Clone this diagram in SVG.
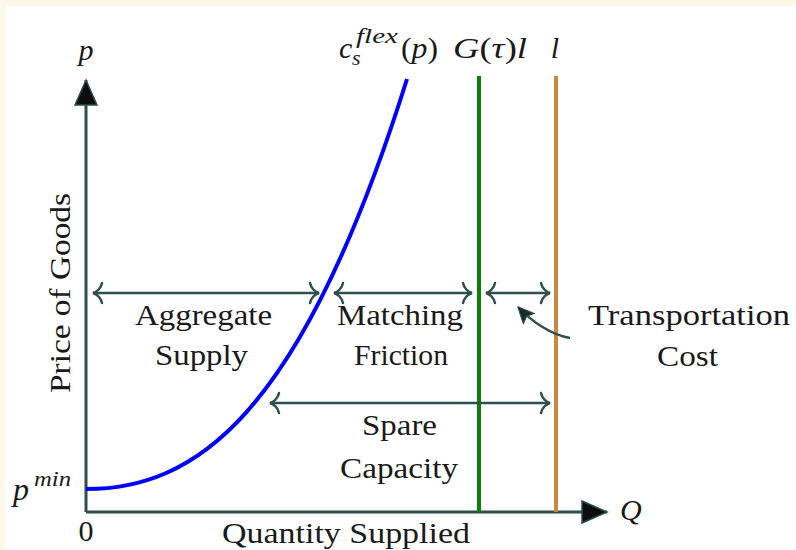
<svg xmlns="http://www.w3.org/2000/svg" width="796" height="550" viewBox="0 0 796 550">
<defs>
<style>
.lbl{font-family:"Liberation Serif","DejaVu Serif",serif;font-size:30px;fill:#1a1a1a;text-anchor:middle}
.m{font-family:"Liberation Serif","DejaVu Serif",serif;font-size:30px;fill:#1a1a1a;font-style:italic}
.sm{font-size:22px}
.up{font-style:normal}
.axis{stroke:#2f4f4f;stroke-width:3;fill:none}
.dim{stroke:#2f4f4f;stroke-width:2.5;fill:none;marker-start:url(#to);marker-end:url(#to)}
</style>
<marker id="to" markerUnits="userSpaceOnUse" markerWidth="24" markerHeight="26" viewBox="-13 -13 16 26" refX="0" refY="0" orient="auto-start-reverse" overflow="visible">
<path d="M -9,-10 C -8,-5 -4,-1 0,0 C -4,1 -8,5 -9,10" fill="none" stroke="#2f4f4f" stroke-width="2.5" stroke-linecap="round"/>
</marker>
<marker id="tri" markerUnits="userSpaceOnUse" markerWidth="30" markerHeight="26" viewBox="-27 -13 29 26" refX="0" refY="0" orient="auto" overflow="visible">
<path d="M 0,0 L -25,-11 L -25,11 Z" fill="#0d0d0d" stroke="#2f4f4f" stroke-width="1.5" stroke-linejoin="miter"/>
</marker>
<marker id="stl" markerUnits="userSpaceOnUse" markerWidth="20" markerHeight="20" viewBox="-17 -9 19 18" refX="0" refY="0" orient="auto" overflow="visible">
<path d="M 0,0 C -4,-2 -10,-5 -15,-7 L -12,0 L -15,7 C -10,5 -4,2 0,0 Z" fill="#1a2a2a" stroke="#2f4f4f" stroke-width="1"/>
</marker>
</defs>
<rect x="0" y="0" width="796" height="550" fill="#fdf8e7"/>
<rect x="5" y="6" width="791" height="544" fill="#ffffff"/>

<g id="axes">
<path class="axis" d="M 86,512 L 86,80" marker-end="url(#tri)"/>
<path class="axis" d="M 86,512 L 607,512" marker-end="url(#tri)"/>
<text class="m" x="86" y="60" text-anchor="middle">p</text>
<text class="m" x="620" y="520">Q</text>
<text class="lbl" x="86" y="541">0</text>
<text class="m" x="13" y="500" style="font-size:32px">p</text>
<text class="m sm" x="34" y="486" textLength="37" lengthAdjust="spacingAndGlyphs">min</text>
<text class="lbl" x="0" y="0" transform="translate(70,293) rotate(-90)" textLength="200" lengthAdjust="spacingAndGlyphs">Price of Goods</text>
<text class="lbl" x="346" y="543" textLength="248" lengthAdjust="spacingAndGlyphs">Quantity Supplied</text>
</g>

<g id="supply-curve">
<path d="M 86,489 C 193,489 300,420.5 407,79" fill="none" stroke="#0000ff" stroke-width="4"/>
<text class="m" x="339" y="58">c</text>
<text class="m sm" x="352" y="65">s</text>
<text class="m sm" x="356" y="43" textLength="42" lengthAdjust="spacingAndGlyphs">flex</text>
<text class="m" x="401" y="58" textLength="37" lengthAdjust="spacingAndGlyphs"><tspan class="up">(</tspan>p<tspan class="up">)</tspan></text>
</g>

<g id="matching-line">
<line x1="479" y1="76" x2="479" y2="512" stroke="#0a800a" stroke-width="4"/>
<text class="m" x="453" y="58" textLength="74" lengthAdjust="spacingAndGlyphs">G<tspan class="up">(</tspan>τ<tspan class="up">)</tspan>l</text>
</g>

<g id="capacity-line">
<line x1="556" y1="76" x2="556" y2="512" stroke="#cd853f" stroke-width="4"/>
<text class="m" x="555" y="58" text-anchor="middle">l</text>
</g>

<g id="connectors">
<line class="dim" x1="93" y1="293" x2="319" y2="293"/>
<line class="dim" x1="334" y1="293" x2="472" y2="293"/>
<line class="dim" x1="486" y1="293" x2="550" y2="293"/>
<line class="dim" x1="270" y1="403" x2="550" y2="403"/>
<path d="M 570,338 C 552,335 532,322 518,307" fill="none" stroke="#2f4f4f" stroke-width="2.5" marker-end="url(#stl)"/>
</g>

<g id="aggregate-supply">
<text class="lbl" x="203.5" y="325" textLength="137" lengthAdjust="spacingAndGlyphs">Aggregate</text>
<text class="lbl" x="201.5" y="365" textLength="93" lengthAdjust="spacingAndGlyphs">Supply</text>
</g>
<g id="matching-friction">
<text class="lbl" x="400" y="325" textLength="126" lengthAdjust="spacingAndGlyphs">Matching</text>
<text class="lbl" x="401" y="365" textLength="94" lengthAdjust="spacingAndGlyphs">Friction</text>
</g>
<g id="transportation-cost">
<text class="lbl" x="689" y="325" textLength="202" lengthAdjust="spacingAndGlyphs">Transportation</text>
<text class="lbl" x="687.5" y="366" textLength="61" lengthAdjust="spacingAndGlyphs">Cost</text>
</g>
<g id="spare-capacity">
<text class="lbl" x="399.5" y="435" textLength="75" lengthAdjust="spacingAndGlyphs">Spare</text>
<text class="lbl" x="399" y="478" textLength="118" lengthAdjust="spacingAndGlyphs">Capacity</text>
</g>
</svg>
